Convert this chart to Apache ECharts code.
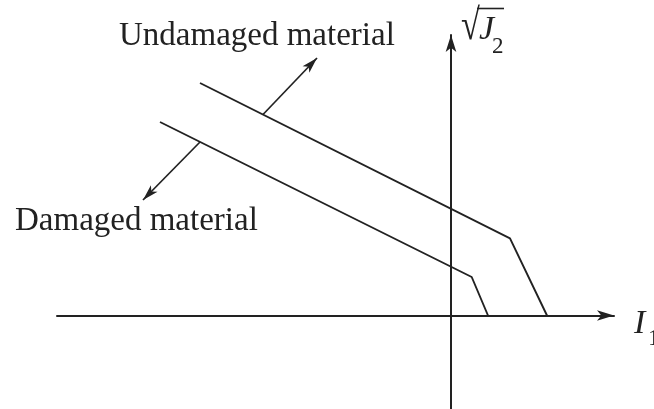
<!DOCTYPE html>
<html>
<head>
<meta charset="utf-8">
<script src="https://cdn.jsdelivr.net/npm/echarts@6/dist/echarts.min.js"></script>
<style>
  html, body { margin: 0; padding: 0; background: #fff; }
  #chart { width: 654px; height: 409px; }
</style>
</head>
<body>
<div id="chart"></div>
<script>
// Yield surfaces in the I1 – sqrt(J2) stress-invariant plane (arbitrary units)
const undamagedI1 = [-25.1, 5.9, 9.6];
const undamagedJ2 = [23.25, 7.72, 0];
const damagedI1 = [-29.1, 2.07, 3.7];
const damagedJ2 = [19.35, 3.85, 0];

// Leader arrows from each surface toward its caption: [fromI1, fromJ2, toI1, toJ2]
const undamagedLeader = [-18.8, 20.1, -13.4, 25.75];
const damagedLeader = [-25.1, 17.35, -30.8, 11.55];

// Visible extent of the two invariant axes
const rangeI1 = [-39.4, 16.3];
const rangeJ2 = [-9.35, 28.05];

const captions = ['Undamaged material', 'Damaged material'];

const ink = '#222222';
const serif = '"Liberation Serif", "Times New Roman", serif';

function pairs(xs, ys) {
  return xs.map((x, i) => [x, ys[i]]);
}
function leader(l) {
  return { coords: [[l[0], l[1]], [l[2], l[3]]] };
}

const chart = echarts.init(document.getElementById('chart'), null, { renderer: 'canvas' });

const axisCommon = {
  type: 'value',
  axisLine: {
    show: true,
    onZero: true,
    symbol: ['none', 'arrow'],
    symbolSize: [8, 17],
    lineStyle: { color: ink, width: 2 }
  },
  axisTick: { show: false },
  axisLabel: { show: false },
  splitLine: { show: false }
};

chart.setOption({
  animation: false,
  backgroundColor: '#fff',
  grid: { left: 57, right: 40, top: 35, bottom: 0, containLabel: false },
  xAxis: Object.assign({}, axisCommon, { min: rangeI1[0], max: rangeI1[1] }),
  yAxis: Object.assign({}, axisCommon, { min: rangeJ2[0], max: rangeJ2[1] }),
  series: [
    {
      name: captions[0],
      type: 'line',
      data: pairs(undamagedI1, undamagedJ2),
      symbol: 'none',
      lineStyle: { color: ink, width: 1.9 },
      silent: true
    },
    {
      name: captions[1],
      type: 'line',
      data: pairs(damagedI1, damagedJ2),
      symbol: 'none',
      lineStyle: { color: ink, width: 1.9 },
      silent: true
    },
    {
      type: 'lines',
      coordinateSystem: 'cartesian2d',
      data: [leader(undamagedLeader), leader(damagedLeader)],
      symbol: ['none', 'arrow'],
      symbolSize: [1, [7, 16]],
      lineStyle: { color: ink, width: 1.7, opacity: 1 },
      silent: true
    }
  ],
  graphic: [
    {
      type: 'text', x: 119, y: 20,
      style: { text: captions[0], font: '33px ' + serif, fill: ink }
    },
    {
      type: 'text', x: 15, y: 205,
      style: { text: captions[1], font: '33px ' + serif, fill: ink }
    },
    // sqrt(J2) axis title: radical sign, J, subscript 2 and the vinculum
    {
      type: 'text', x: 461, y: 5, scaleX: 0.78,
      style: { text: '\u221A', font: '44px ' + serif, fill: ink }
    },
    {
      type: 'text', x: 479, y: 13,
      style: { text: 'J', font: 'italic 34px ' + serif, fill: ink }
    },
    {
      type: 'text', x: 492, y: 35,
      style: { text: '2', font: '23px ' + serif, fill: ink }
    },
    {
      type: 'line',
      shape: { x1: 477, y1: 8.5, x2: 504, y2: 8.5 },
      style: { stroke: ink, lineWidth: 1.6 }
    },
    // I1 axis title
    {
      type: 'text', x: 634, y: 307,
      style: { text: 'I', font: 'italic 34px ' + serif, fill: ink }
    },
    {
      type: 'text', x: 648, y: 327,
      style: { text: '1', font: '23px ' + serif, fill: ink }
    }
  ]
});
</script>
</body>
</html>
